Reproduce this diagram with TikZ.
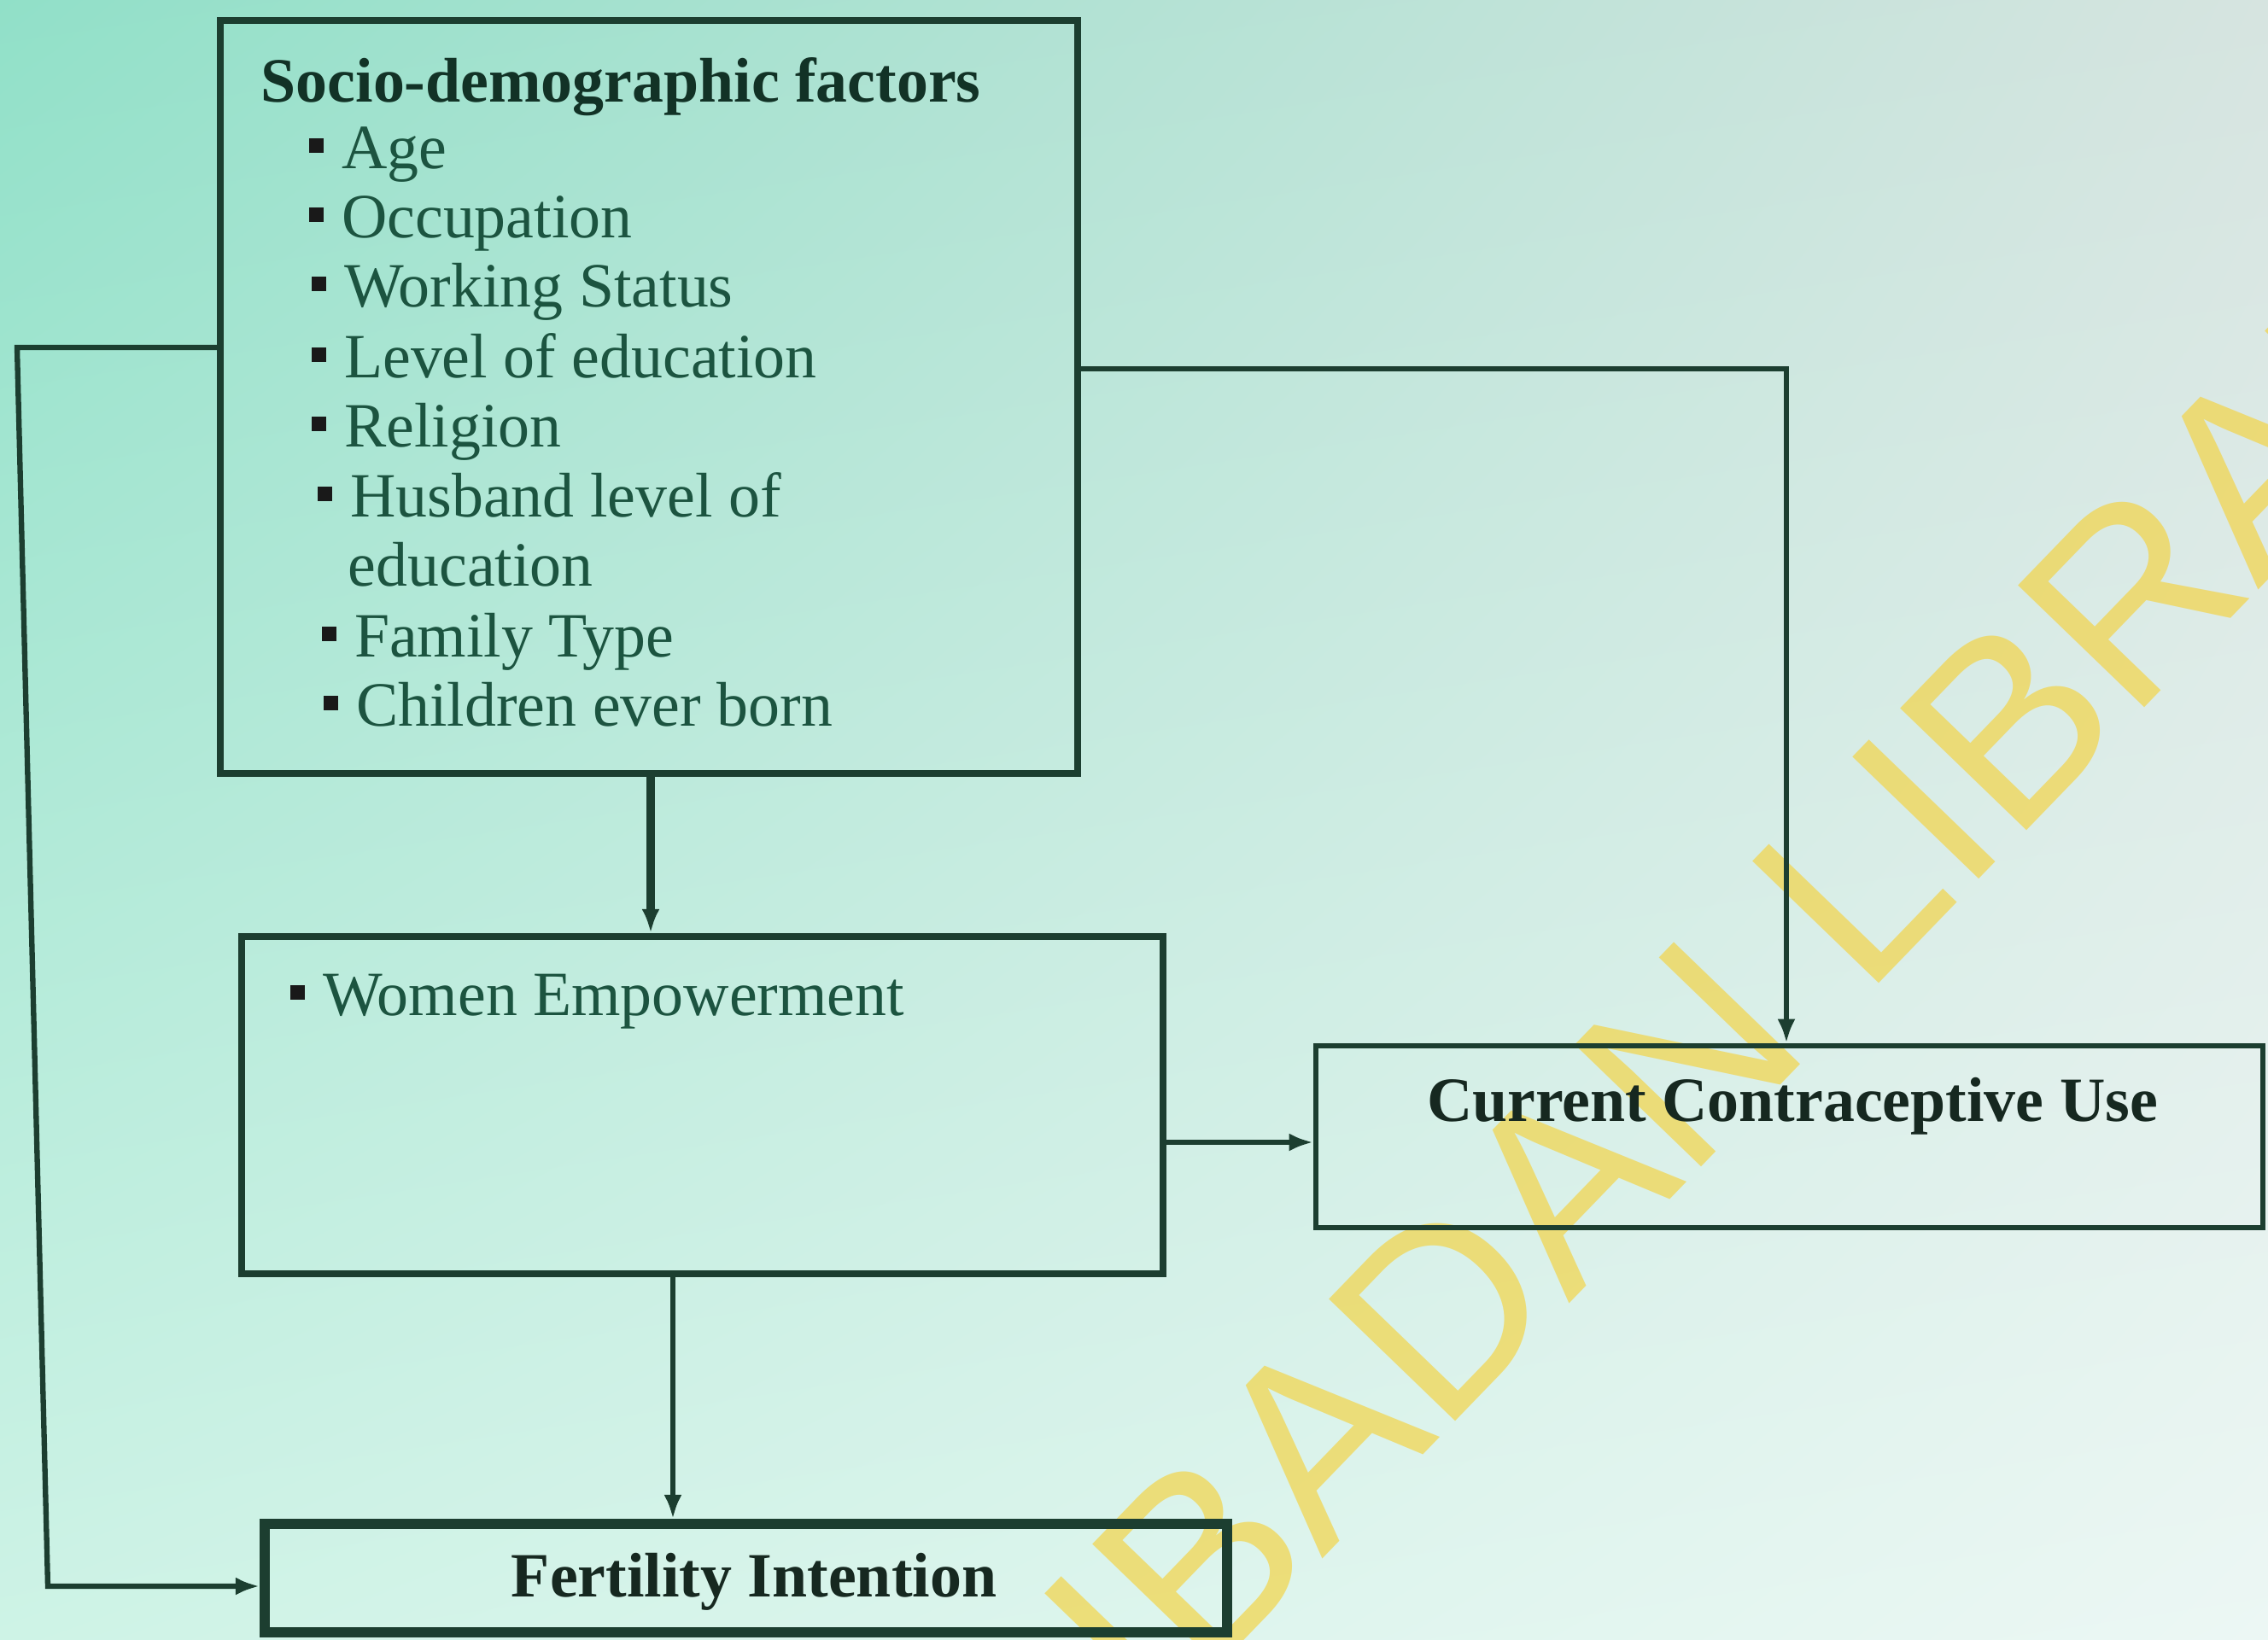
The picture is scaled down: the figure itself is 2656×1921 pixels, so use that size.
\documentclass[tikz,border=0pt]{standalone}
\usepackage{fontspec}
\setmainfont{Liberation Serif}
\newfontfamily\wmfont{Liberation Sans}
\usetikzlibrary{arrows.meta,fit,shadings}

\definecolor{bgA}{RGB}{145,224,200}
\definecolor{bgB}{RGB}{214,228,224}
\definecolor{bgC}{RGB}{206,243,230}
\definecolor{bgD}{RGB}{236,247,244}
\definecolor{linecol}{RGB}{28,62,48}
\definecolor{titlecol}{RGB}{18,50,38}
\definecolor{itemcol}{RGB}{28,84,64}
\definecolor{boldcol}{RGB}{22,40,32}
\definecolor{wmcol}{RGB}{245,210,60}

\newcommand\sqb{\textcolor{black!90}{\rule[0.24em]{0.24em}{0.24em}}\hspace{0.28em}}

\begin{document}
\begin{tikzpicture}[x=0.01cm,y=-0.01cm,
  box/.style={draw=linecol, inner sep=0pt, rectangle},
  item/.style={anchor=base west, inner sep=0pt, text=itemcol, font=\fontsize{21}{25}\selectfont},
  boldlabel/.style={inner sep=0pt, text=boldcol, font=\bfseries\fontsize{21}{25}\selectfont},
  conn/.style={draw=linecol, line width=1.8pt},
  tip/.style={-{Latex[length=8pt,width=6pt]}}
]
\useasboundingbox (0,0) rectangle (2656,1921);
\clip (0,0) rectangle (2656,1921);
\shade[upper left=bgA, upper right=bgB, lower left=bgC, lower right=bgD] (0,0) rectangle (2656,1921);

% watermark (behind the diagram)
\node[rotate=46, anchor=base west, inner sep=0pt, text=wmcol, text opacity=0.65, font=\wmfont\fontsize{85}{90}\selectfont] (wm) at (1352,2030) {IBADAN LIBRARY};

% boxes
\node[box, line width=2.3pt, fit={(258,24) (1262,906)}] (socio) {};
\node[box, line width=2.3pt, fit={(283,1097) (1362,1492)}] (women) {};
\node[box, line width=1.8pt, fit={(1541,1225) (2650,1438)}] (contra) {};
\node[box, line width=3.4pt, fit={(310,1785) (1437,1912)}] (fert) {};

% texts of box 1
\node[anchor=base west, inner sep=0pt, text=titlecol, font=\bfseries\fontsize{21}{25}\selectfont] (title) at (305,119) {Socio-demographic factors};
\node[item] (i1) at (361,197) {\sqb Age};
\node[item] (i2) at (361,278) {\sqb Occupation};
\node[item] (i3) at (364,359) {\sqb Working Status};
\node[item] (i4) at (364,442) {\sqb Level of education};
\node[item] (i5) at (364,523) {\sqb Religion};
\node[item] (i6) at (371,605) {\sqb Husband level of};
\node[item] (i6b) at (407,686) {education};
\node[item] (i7) at (376,769) {\sqb Family Type};
\node[item] (i8) at (378,850) {\sqb Children ever born};

\node[item] (w1) at (339,1189) {\sqb Women Empowerment};
\node[boldlabel] (ctext) at (2099,1296) {Current Contraceptive Use};
\node[boldlabel] (ftext) at (883,1853) {Fertility Intention};

% connectors
\coordinate (c1) at (20,407);
\coordinate (c2) at (56,1858);
\draw[conn,tip] (socio.west |- c1) -- (c1) -- (c2) -- (c2 -| fert.west);
\coordinate (c3) at (2092,432);
\draw[conn,tip] (socio.east |- c3) -- (c3) -- (c3 |- contra.north);
\coordinate (c4) at (762,0);
\draw[conn,tip,line width=2.8pt] (c4 |- socio.south) -- (c4 |- women.north);
\coordinate (c5) at (0,1338);
\draw[conn,tip] (c5 -| women.east) -- (c5 -| contra.west);
\coordinate (c6) at (788,0);
\draw[conn,tip] (c6 |- women.south) -- (c6 |- fert.north);
\end{tikzpicture}
\end{document}
